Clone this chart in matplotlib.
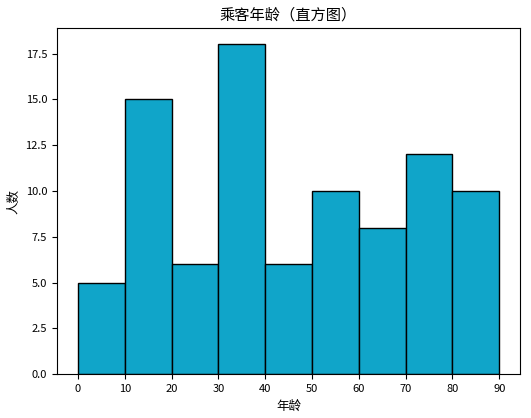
import matplotlib
matplotlib.use("Agg")
import matplotlib.pyplot as plt

plt.rcParams['font.family'] = ['Noto Sans CJK SC', 'DejaVu Sans']
plt.rcParams['axes.unicode_minus'] = False

bin_edges = [0, 10, 20, 30, 40, 50, 60, 70, 80, 90]
counts = [5, 15, 6, 18, 6, 10, 8, 12, 10]

fig = plt.figure(figsize=(5.31, 4.18), dpi=100)
ax = fig.add_axes([0.107, 0.105, 0.873, 0.828])
ax.hist(bin_edges[:-1], bins=bin_edges, weights=counts, color='#10a5c9', edgecolor='black', linewidth=1)
ax.set_xticks(bin_edges)
ax.set_yticks([0, 2.5, 5, 7.5, 10, 12.5, 15, 17.5])
ax.set_title('乘客年龄（直方图）', fontsize=11)
ax.set_xlabel('年龄', fontsize=9)
ax.set_ylabel('人数', fontsize=9)
ax.tick_params(labelsize=8)
fig.savefig('out.png', dpi=100)
